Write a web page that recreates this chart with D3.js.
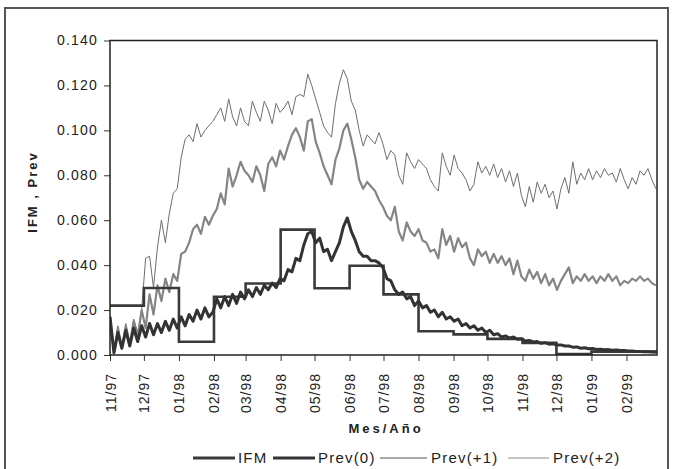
<!DOCTYPE html>
<html>
<head>
<meta charset="utf-8">
<script src="https://cdn.jsdelivr.net/npm/d3@7"></script>
<style>
  html, body { margin: 0; padding: 0; background: #fff; }
  svg { display: block; font-family: "Liberation Sans", Arial, sans-serif; }
</style>
</head>
<body>
<svg id="chart" width="673" height="469"></svg>
<script>
// ---------------- DATA ----------------
const seriesNames = ["IFM", "Prev(0)", "Prev(+1)", "Prev(+2)"];

// IFM: monthly values (step line)
const ifmMonths = ["1997-11","1997-12","1998-01","1998-02","1998-03","1998-04","1998-05","1998-06",
                   "1998-07","1998-08","1998-09","1998-10","1998-11","1998-12","1999-01","1999-02"];
const ifmValues = [0.0220,0.0298,0.0059,0.0259,0.0318,0.0558,0.0297,0.0397,
                   0.0270,0.0106,0.0092,0.0072,0.0054,0.0004,0.0015,0.0015];

// Forecast series, sampled every 3.5 days starting 1 Nov 1997
const prevStart = "1997-11-01";
const prev0 = [
 0.017,0.001,0.010,0.003,0.011,0.004,0.012,0.006,0.013,0.008,
 0.014,0.009,0.014,0.010,0.015,0.011,0.016,0.012,0.017,0.013,
 0.018,0.015,0.020,0.016,0.021,0.017,0.019,0.025,0.021,0.026,
 0.022,0.027,0.023,0.028,0.025,0.029,0.026,0.030,0.027,0.031,
 0.029,0.032,0.030,0.034,0.033,0.038,0.037,0.043,0.042,0.049,
 0.054,0.055,0.050,0.052,0.046,0.047,0.042,0.046,0.050,0.057,
 0.061,0.055,0.051,0.046,0.044,0.044,0.042,0.042,0.041,0.039,
 0.034,0.033,0.029,0.027,0.028,0.025,0.026,0.022,0.024,0.021,
 0.022,0.019,0.020,0.017,0.019,0.016,0.017,0.015,0.016,0.013,
 0.014,0.012,0.013,0.011,0.012,0.010,0.011,0.009,0.0095,0.008,
 0.0085,0.0075,0.008,0.007,0.0072,0.0062,0.0065,0.0058,0.006,0.0052,
 0.0055,0.0048,0.005,0.0044,0.0045,0.004,0.004,0.0035,0.0036,0.003,
 0.0032,0.0028,0.0029,0.0025,0.0026,0.0023,0.0024,0.0021,0.0022,0.002,
 0.002,0.0018,0.0018,0.0016,0.0016,0.0015,0.0014,0.0013,0.0012
];
const prev1 = [
 0.017,0.001,0.012,0.003,0.013,0.005,0.015,0.008,0.020,0.012,
 0.027,0.018,0.031,0.024,0.034,0.028,0.036,0.033,0.045,0.046,
 0.050,0.056,0.058,0.054,0.0615,0.058,0.062,0.065,0.072,0.067,
 0.083,0.075,0.080,0.086,0.082,0.080,0.077,0.084,0.080,0.073,
 0.085,0.088,0.084,0.091,0.087,0.093,0.098,0.101,0.097,0.091,
 0.104,0.105,0.095,0.090,0.084,0.080,0.076,0.087,0.092,0.100,
 0.103,0.096,0.088,0.078,0.074,0.077,0.075,0.073,0.069,0.066,
 0.062,0.060,0.066,0.055,0.051,0.059,0.055,0.053,0.056,0.051,
 0.050,0.046,0.047,0.043,0.056,0.049,0.053,0.046,0.052,0.048,
 0.050,0.043,0.040,0.047,0.044,0.046,0.041,0.045,0.041,0.044,
 0.040,0.043,0.036,0.042,0.035,0.033,0.038,0.034,0.037,0.032,
 0.036,0.031,0.034,0.029,0.033,0.036,0.039,0.032,0.035,0.033,
 0.036,0.033,0.035,0.032,0.035,0.033,0.036,0.033,0.035,0.031,
 0.033,0.032,0.034,0.033,0.035,0.033,0.034,0.032,0.031
];
const prev2 = [
 0.017,0.001,0.013,0.003,0.014,0.005,0.016,0.010,0.020,0.043,
 0.044,0.030,0.048,0.060,0.050,0.063,0.072,0.074,0.088,0.096,
 0.098,0.095,0.103,0.097,0.100,0.102,0.104,0.107,0.110,0.104,
 0.114,0.106,0.102,0.110,0.104,0.102,0.113,0.108,0.104,0.113,
 0.109,0.103,0.112,0.108,0.110,0.113,0.107,0.115,0.116,0.115,
 0.125,0.120,0.114,0.108,0.102,0.099,0.097,0.112,0.121,0.127,
 0.123,0.113,0.109,0.100,0.093,0.098,0.096,0.094,0.099,0.094,
 0.087,0.091,0.089,0.080,0.076,0.090,0.086,0.083,0.087,0.085,
 0.083,0.078,0.075,0.073,0.090,0.084,0.080,0.089,0.083,0.081,
 0.078,0.073,0.076,0.086,0.081,0.084,0.080,0.085,0.079,0.083,
 0.077,0.082,0.075,0.081,0.071,0.066,0.075,0.068,0.077,0.072,
 0.076,0.070,0.073,0.065,0.074,0.079,0.072,0.086,0.076,0.081,
 0.078,0.083,0.078,0.082,0.079,0.083,0.080,0.081,0.077,0.083,
 0.078,0.074,0.079,0.076,0.082,0.080,0.083,0.078,0.074
];

const yTicks = [0.000,0.020,0.040,0.060,0.080,0.100,0.120,0.140];
const xTitle = "Mes/Año";
const yTitle = "IFM , Prev";

// ---------------- LAYOUT ----------------
const svg = d3.select("#chart");
const plot = {left: 110, right: 657, top: 40.5, bottom: 355};

const parseM = d3.utcParse("%Y-%m");
const parseD = d3.utcParse("%Y-%m-%d");
const startDate = parseD("1997-11-01");
const endDate = parseD("1999-02-28");

const x = d3.scaleUtc().domain([startDate, endDate]).range([plot.left, plot.right]);
const y = d3.scaleLinear().domain([0, 0.14]).range([plot.bottom, plot.top]);

// outer frame
svg.append("rect").attr("x", 5).attr("y", 8).attr("width", 663).attr("height", 480)
  .attr("fill", "none").attr("stroke", "#555").attr("stroke-width", 2);

// axes
const yAxis = d3.axisLeft(y).tickValues(yTicks).tickFormat(d3.format(".3f")).tickSize(6).tickPadding(6);
const gy = svg.append("g").attr("transform", `translate(${plot.left},0)`).call(yAxis);
gy.select(".domain").remove();
gy.selectAll("line").attr("stroke", "#333");
gy.selectAll("text").attr("font-size", 14).attr("fill", "#222")
  .style("letter-spacing", "1.2px").attr("font-family", "Liberation Sans, Arial, sans-serif");

const xAxis = d3.axisBottom(x).ticks(d3.utcMonth.every(1)).tickFormat(d3.utcFormat("%m/%y")).tickSize(6);
const gx = svg.append("g").attr("transform", `translate(0,${plot.bottom})`).call(xAxis);
gx.select(".domain").remove();
gx.selectAll("line").attr("stroke", "#333");
gx.selectAll(".tick text").remove();
gx.selectAll(".tick").append("text")
  .text(d => d3.utcFormat("%m/%y")(d))
  .attr("font-size", 14).attr("fill", "#222")
  .attr("font-family", "Liberation Sans, Arial, sans-serif")
  .style("letter-spacing", "1px")
  .attr("text-anchor", "end")
  .attr("dominant-baseline", "central")
  .attr("transform", "translate(0,18) rotate(-90)");

// series
const stepH = 84; // hours between samples (3.5 days)
const prevDate = i => d3.utcHour.offset(parseD(prevStart), i * stepH);

const line = d3.line().x(d => x(d[0])).y(d => y(d[1]));
const mk = arr => arr.map((v, i) => [prevDate(i), v]);

const clip = svg.append("clipPath").attr("id", "clip").append("rect")
  .attr("x", plot.left).attr("y", plot.top - 5).attr("width", plot.right - plot.left).attr("height", plot.bottom - plot.top + 5);

const gl = svg.append("g").attr("clip-path", "url(#clip)");

gl.append("path").datum(mk(prev2)).attr("d", line)
  .attr("fill", "none").attr("stroke", "#6e6e6e").attr("stroke-width", 1).attr("stroke-linejoin", "round");
gl.append("path").datum(mk(prev1)).attr("d", line)
  .attr("fill", "none").attr("stroke", "#858585").attr("stroke-width", 2.2).attr("stroke-linejoin", "round");

const ifmData = ifmMonths.map((m, i) => [parseM(m), ifmValues[i]]);
ifmData.push([endDate, ifmValues[ifmValues.length - 1]]);
gl.append("path").datum(ifmData)
  .attr("d", d3.line().x(d => x(d[0])).y(d => y(d[1])).curve(d3.curveStepAfter))
  .attr("fill", "none").attr("stroke", "#3a3a3a").attr("stroke-width", 2.6);

gl.append("path").datum(mk(prev0)).attr("d", line)
  .attr("fill", "none").attr("stroke", "#333").attr("stroke-width", 3).attr("stroke-linejoin", "round");

// plot frame
svg.append("rect").attr("x", plot.left).attr("y", plot.top)
  .attr("width", plot.right - plot.left).attr("height", plot.bottom - plot.top)
  .attr("fill", "none").attr("stroke", "#222").attr("stroke-width", 1.5);

// titles
svg.append("text").text(yTitle)
  .attr("transform", `translate(37,192) rotate(-90)`)
  .attr("text-anchor", "middle").attr("font-size", 13).attr("font-weight", "bold")
  .style("letter-spacing", "2px").attr("fill", "#222");

svg.append("text").text(xTitle)
  .attr("x", 386).attr("y", 433)
  .attr("text-anchor", "middle").attr("font-size", 13).attr("font-weight", "bold")
  .style("letter-spacing", "3px").attr("fill", "#222");

// legend
const legendItems = [
  {name: seriesNames[0], x1: 193, x2: 235, tx: 238, stroke: "#3a3a3a", w: 3},
  {name: seriesNames[1], x1: 273, x2: 315, tx: 318, stroke: "#333", w: 3},
  {name: seriesNames[2], x1: 380, x2: 427, tx: 431, stroke: "#8c8c8c", w: 1.6},
  {name: seriesNames[3], x1: 508, x2: 549, tx: 553, stroke: "#8a8a8a", w: 1}
];
const lg = svg.append("g");
legendItems.forEach(it => {
  lg.append("line").attr("x1", it.x1).attr("x2", it.x2).attr("y1", 458).attr("y2", 458)
    .attr("stroke", it.stroke).attr("stroke-width", it.w);
  lg.append("text").text(it.name).attr("x", it.tx).attr("y", 463)
    .attr("font-size", 15).style("letter-spacing", "1.2px").attr("fill", "#222");
});
</script>
</body>
</html>
